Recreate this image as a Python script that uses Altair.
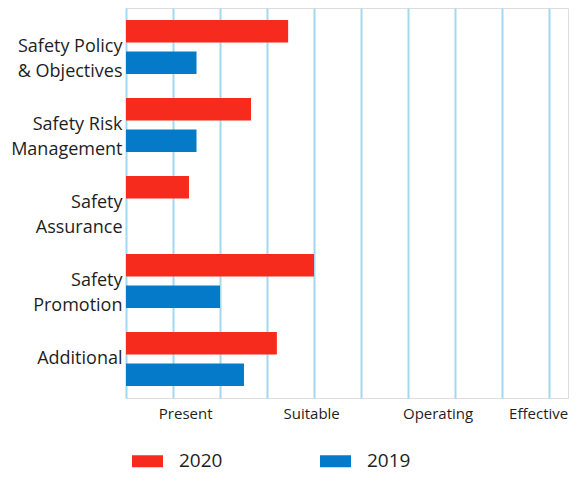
import altair as alt
import pandas as pd

categories = ["Safety Policy|& Objectives", "Safety Risk|Management", "Safety|Assurance",
              "Safety|Promotion", "Additional"]
years = ["2020", "2019"]
values_2020 = [3.45, 2.66, 1.34, 4.0, 3.21]
values_2019 = [1.5, 1.5, 0.0, 2.0, 2.51]

levels = ["Present", "Suitable", "Operating", "Effective"]
level_pos = [1.27, 3.95, 6.64, 8.78]
grid_vals = list(range(10))

rows = []
for c, a, b in zip(categories, values_2020, values_2019):
    rows.append({"category": c, "year": "2020", "value": a})
    rows.append({"category": c, "year": "2019", "value": b})
df = pd.DataFrame(rows)
lv = pd.DataFrame({"level": levels, "pos": level_pos})

FONT = "Open Sans"
TXT = "#1e1e1e"
xscale = alt.Scale(domain=[0, 442 / 47], nice=False, zero=True)

bars = alt.Chart(df).mark_bar().encode(
    x=alt.X("value:Q", scale=xscale,
            axis=alt.Axis(values=grid_vals, labels=False, ticks=False, domain=False,
                          title=None, grid=True, gridColor="#a3d9f0", gridWidth=2)),
    y=alt.Y("category:N", sort=categories,
            scale=alt.Scale(paddingInner=0, paddingOuter=0),
            axis=alt.Axis(title=None, ticks=False, domain=False,
                          labelExpr="split(datum.label, '|')",
                          labelFont=FONT, labelFontSize=18, labelColor=TXT,
                          labelLineHeight=25, labelPadding=4, labelLimit=200)),
    yOffset=alt.YOffset("year:N", sort=years,
                        scale=alt.Scale(paddingInner=0.29, paddingOuter=0.38)),
    color=alt.Color("year:N", sort=years,
                    scale=alt.Scale(domain=years, range=["#f62a1d", "#047ac9"]),
                    legend=alt.Legend(title=None, orient="none", legendX=6, legendY=437.5,
                                      direction="horizontal", columns=2, columnPadding=97,
                                      symbolType="M-1,-0.387H1V0.387H-1Z", symbolSize=961,
                                      symbolStrokeWidth=0, labelOffset=16,
                                      labelFont=FONT, labelFontSize=19, labelColor=TXT,
                                      padding=0)),
)

xlabels = alt.Chart(lv).mark_text(font=FONT, fontSize=15, color=TXT, baseline="middle").encode(
    x=alt.X("pos:Q", scale=xscale),
    y=alt.value(406),
    text="level:N",
)

chart = alt.layer(bars, xlabels).properties(
    width=442, height=390,
    autosize=alt.AutoSizeParams(type="none"),
    padding={"left": 118, "top": 0, "right": 2, "bottom": 77},
).configure_view(stroke=None).configure(background="white")

chart.save("out.html", embed_options={"renderer": "svg", "actions": False})
